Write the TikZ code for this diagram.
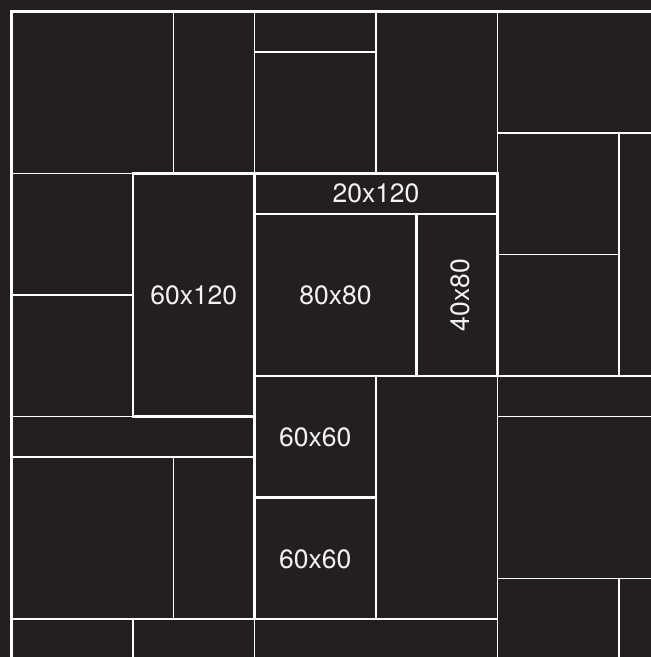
\documentclass[tikz,border=0pt]{standalone}
\usepackage{fontspec}
\setmainfont{TeX Gyre Heros}
\definecolor{bg}{HTML}{231F20}
\definecolor{txt}{HTML}{F2F2F2}
\begin{document}
\begin{tikzpicture}[x=2.025pt,y=-2.025pt,
  thinline/.style={white, line width=1.1pt},
  boldline/.style={white, line width=2.6pt},
  frameline/.style={white, line width=3pt},
  lbl/.style={text=txt, font=\fontsize{26.5}{30}\selectfont, inner sep=0pt}]
\useasboundingbox[fill=bg] (-5.679,-5.679) rectangle (315.8,318.77);
\clip (-5.679,-5.679) rectangle (315.8,318.77);
% thin grid lines
\draw[thinline] (80,0) -- (80,80);
\draw[thinline] (120,0) -- (120,80);
\draw[thinline] (120,20) -- (180,20);
\draw[thinline] (180,0) -- (180,80);
\draw[thinline] (240,0) -- (240,330);
\draw[thinline] (240,60) -- (330,60);
\draw[thinline] (300,60) -- (300,180);
\draw[thinline] (240,120) -- (300,120);
\draw[thinline] (240,180) -- (330,180);
\draw[thinline] (240,200) -- (330,200);
\draw[thinline] (240,280) -- (330,280);
\draw[thinline] (300,280) -- (300,330);
\draw[thinline] (0,80) -- (240,80);
\draw[thinline] (0,140) -- (60,140);
\draw[thinline] (0,200) -- (120,200);
\draw[thinline] (0,220) -- (120,220);
\draw[thinline] (80,220) -- (80,300);
\draw[thinline] (0,300) -- (240,300);
\draw[thinline] (60,300) -- (60,330);
\draw[thinline] (120,300) -- (120,330);
\draw[thinline] (180,180) -- (180,300);
% bold boxes
\draw[boldline] (60,80) rectangle (120,200);
\draw[boldline] (120,80) rectangle (240,100);
\draw[boldline] (120,100) rectangle (200,180);
\draw[boldline] (200,100) rectangle (240,180);
\draw[boldline] (120,180) rectangle (180,240);
\draw[boldline] (120,240) rectangle (180,300);
% outer frame
\draw[frameline] (0,330) -- (0,0) -- (330,0);
% labels
\node[lbl] (a) at (90,140) {60x120};
\node[lbl] (b) at (180,90) {20x120};
\node[lbl] (c) at (160,140) {80x80};
\node[lbl, rotate=90] (d) at (221.5,140) {40x80};
\node[lbl] (e) at (150,210.5) {60x60};
\node[lbl] (f) at (150,270.5) {60x60};
\end{tikzpicture}
\end{document}
